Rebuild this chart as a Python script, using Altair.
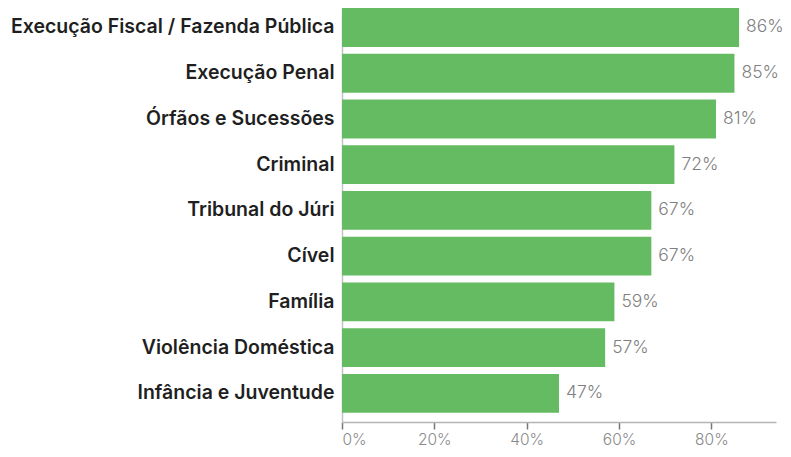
import altair as alt
import pandas as pd

categories = [
    "Execução Fiscal / Fazenda Pública",
    "Execução Penal",
    "Órfãos e Sucessões",
    "Criminal",
    "Tribunal do Júri",
    "Cível",
    "Família",
    "Violência Doméstica",
    "Infância e Juventude",
]
values = [0.86, 0.85, 0.81, 0.72, 0.67, 0.67, 0.59, 0.57, 0.47]
tick_values = [0, 0.2, 0.4, 0.6, 0.8]

df = pd.DataFrame({"cat": categories, "val": values})

y_enc = alt.Y(
    "cat:N",
    sort=categories,
    title=None,
    scale=alt.Scale(paddingInner=0.15, paddingOuter=0.1, align=0),
    axis=alt.Axis(
        labelFont="Inter",
        labelFontWeight=600,
        labelFontSize=19.5,
        labelColor="#1f1f1f",
        labelPadding=8,
        ticks=False,
        domainColor="#c4c4c4",
        domainWidth=1.5,
        labelLimit=400,
    ),
)
x_enc = alt.X(
    "val:Q",
    title=None,
    scale=alt.Scale(domain=[0, 0.94], nice=False, zero=True),
    axis=alt.Axis(
        values=tick_values,
        format=".0%",
        grid=False,
        labelFont="Inter",
        labelFontWeight=300,
        labelFontSize=15.5,
        labelColor="#8a8a8a",
        labelPadding=3,
        tickColor="#777777",
        tickSize=7,
        tickWidth=1.5,
        domainColor="#b5b5b5",
        domainWidth=1.5,
    ),
)

bars = alt.Chart(df).mark_bar(color="#64BB62").encode(x=x_enc, y=y_enc)
labels = alt.Chart(df).mark_text(
    align="left", baseline="middle", dx=7, font="Inter", fontWeight=300,
    fontSize=17.5, color="#7f7f7f"
).encode(
    x=alt.X("val:Q"),
    y=alt.Y("cat:N", sort=categories),
    text=alt.Text("val:Q", format=".0%"),
)

chart = (
    alt.layer(bars, labels)
    .properties(
        width=434,
        height=414,
        background="white",
        autosize=alt.AutoSizeParams(type="none"),
        padding={"left": 334, "top": 0, "right": 7, "bottom": 27},
    )
    .configure_view(strokeWidth=0, strokeOpacity=0)
)

chart.save("out.html", embed_options={"renderer": "svg", "actions": False})
